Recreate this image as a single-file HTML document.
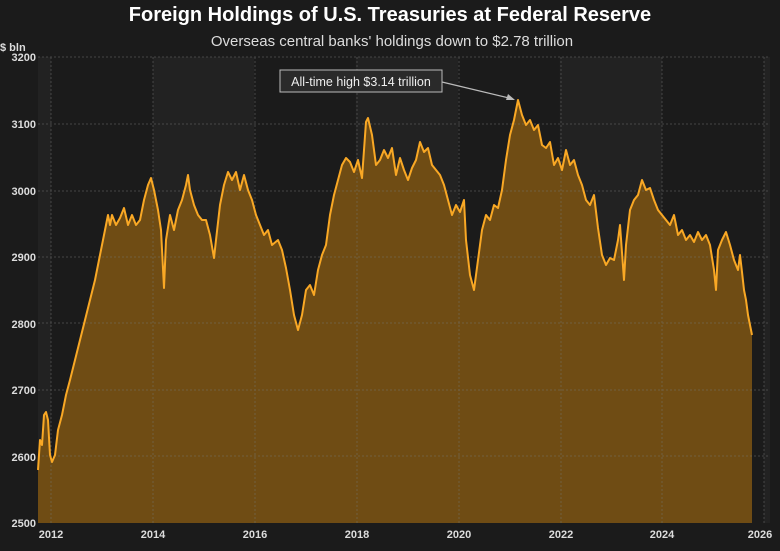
<!DOCTYPE html>
<html><head><meta charset="utf-8"><style>
body{margin:0;background:#1b1b1b;width:780px;height:546px;overflow:hidden;font-family:"Liberation Sans",sans-serif}
</style></head><body>
<svg width="780" height="546" xmlns="http://www.w3.org/2000/svg" font-family="Liberation Sans, sans-serif">
<rect width="780" height="546" fill="#1b1b1b"/>
<rect x="38" y="57" width="732" height="466" fill="#222"/>
<rect x="51" y="57" width="101.8" height="466" fill="#1b1b1b"/>
<rect x="254" y="57" width="101.8" height="466" fill="#1b1b1b"/>
<rect x="458" y="57" width="101.8" height="466" fill="#1b1b1b"/>
<rect x="662" y="57" width="101.8" height="466" fill="#1b1b1b"/>
<text x="390" y="21" fill="#fff" font-size="20" font-weight="bold" text-anchor="middle">Foreign Holdings of U.S. Treasuries at Federal Reserve</text>
<text x="392" y="46" fill="#ddd" font-size="15" text-anchor="middle">Overseas central banks' holdings down to $2.78 trillion</text>
<text x="0" y="51" fill="#ddd" font-size="11" font-weight="bold">$ bln</text>
<g fill="#ddd" font-size="11" font-weight="bold" text-anchor="end">
<text x="36" y="61">3200</text><text x="36" y="128">3100</text><text x="36" y="195">3000</text><text x="36" y="261">2900</text><text x="36" y="328">2800</text><text x="36" y="394">2700</text><text x="36" y="461">2600</text><text x="36" y="527">2500</text>
</g>
<g fill="#ddd" font-size="11" font-weight="bold" text-anchor="middle">
<text x="51" y="538">2012</text><text x="153" y="538">2014</text><text x="255" y="538">2016</text><text x="357" y="538">2018</text><text x="459" y="538">2020</text><text x="561" y="538">2022</text><text x="662" y="538">2024</text><text x="760" y="538">2026</text>
</g>
<path d="M38,523 L38,470 L40,440 L42,445 L44,415 L46,412 L48,420 L50,455 L52,462 L55,455 L58,430 L62,415 L66,395 L70,380 L75,360 L80,340 L85,320 L90,300 L95,280 L100,255 L104,235 L108,215 L110,225 L112,215 L116,225 L120,218 L124,208 L128,225 L132,215 L136,225 L140,220 L144,200 L148,185 L151,178 L154,190 L158,210 L161,230 L164,288 L166,240 L170,215 L174,230 L178,210 L182,200 L186,185 L188,175 L190,190 L194,205 L198,215 L202,220 L206,220 L210,235 L214,258 L216,240 L220,205 L224,185 L228,172 L232,180 L236,172 L240,190 L244,175 L248,190 L252,200 L256,215 L260,225 L264,235 L268,230 L272,245 L278,240 L282,250 L286,268 L290,290 L294,315 L298,330 L302,315 L306,290 L310,285 L314,295 L318,270 L322,255 L326,245 L330,215 L334,195 L338,180 L342,165 L346,158 L350,162 L354,172 L358,160 L362,178 L366,122 L368,118 L372,135 L376,165 L380,160 L384,150 L388,158 L392,148 L396,175 L400,158 L404,170 L408,180 L412,168 L416,160 L420,142 L424,152 L428,148 L432,165 L436,170 L440,175 L444,185 L448,200 L452,215 L456,205 L460,212 L464,200 L466,240 L470,275 L474,290 L478,260 L482,230 L486,215 L490,220 L494,205 L498,208 L502,190 L506,160 L510,135 L514,120 L518,100 L522,115 L526,125 L530,120 L534,130 L538,125 L542,145 L546,148 L550,142 L554,165 L558,158 L562,170 L566,150 L570,165 L574,160 L578,175 L582,185 L586,200 L590,205 L594,195 L598,228 L602,255 L606,265 L610,258 L614,260 L618,240 L620,225 L624,280 L626,245 L630,210 L634,200 L638,195 L642,180 L646,190 L650,188 L654,200 L658,210 L662,215 L666,220 L670,225 L674,215 L678,235 L682,230 L686,240 L690,235 L694,242 L698,232 L702,240 L706,235 L710,245 L714,270 L716,290 L718,250 L722,240 L726,232 L730,245 L734,260 L738,270 L740,255 L742,272 L744,290 L746,300 L748,315 L750,325 L752,335 L752,523 Z" fill="#6f4c14"/>
<g stroke="#777" stroke-width="1" stroke-dasharray="2,2" opacity="0.45">
<line x1="38" y1="124" x2="770" y2="124"/><line x1="38" y1="191" x2="770" y2="191"/><line x1="38" y1="257" x2="770" y2="257"/><line x1="38" y1="323" x2="770" y2="323"/><line x1="38" y1="390" x2="770" y2="390"/><line x1="38" y1="456" x2="770" y2="456"/><line x1="38" y1="57" x2="770" y2="57"/>
<line x1="51" y1="57" x2="51" y2="523"/><line x1="153" y1="57" x2="153" y2="523"/><line x1="255" y1="57" x2="255" y2="523"/><line x1="357" y1="57" x2="357" y2="523"/><line x1="459" y1="57" x2="459" y2="523"/><line x1="561" y1="57" x2="561" y2="523"/><line x1="662" y1="57" x2="662" y2="523"/><line x1="764" y1="57" x2="764" y2="523"/>
</g>
<polyline fill="none" stroke="#f9a825" stroke-width="2" stroke-linejoin="round" points="38,470 40,440 42,445 44,415 46,412 48,420 50,455 52,462 55,455 58,430 62,415 66,395 70,380 75,360 80,340 85,320 90,300 95,280 100,255 104,235 108,215 110,225 112,215 116,225 120,218 124,208 128,225 132,215 136,225 140,220 144,200 148,185 151,178 154,190 158,210 161,230 164,288 166,240 170,215 174,230 178,210 182,200 186,185 188,175 190,190 194,205 198,215 202,220 206,220 210,235 214,258 216,240 220,205 224,185 228,172 232,180 236,172 240,190 244,175 248,190 252,200 256,215 260,225 264,235 268,230 272,245 278,240 282,250 286,268 290,290 294,315 298,330 302,315 306,290 310,285 314,295 318,270 322,255 326,245 330,215 334,195 338,180 342,165 346,158 350,162 354,172 358,160 362,178 366,122 368,118 372,135 376,165 380,160 384,150 388,158 392,148 396,175 400,158 404,170 408,180 412,168 416,160 420,142 424,152 428,148 432,165 436,170 440,175 444,185 448,200 452,215 456,205 460,212 464,200 466,240 470,275 474,290 478,260 482,230 486,215 490,220 494,205 498,208 502,190 506,160 510,135 514,120 518,100 522,115 526,125 530,120 534,130 538,125 542,145 546,148 550,142 554,165 558,158 562,170 566,150 570,165 574,160 578,175 582,185 586,200 590,205 594,195 598,228 602,255 606,265 610,258 614,260 618,240 620,225 624,280 626,245 630,210 634,200 638,195 642,180 646,190 650,188 654,200 658,210 662,215 666,220 670,225 674,215 678,235 682,230 686,240 690,235 694,242 698,232 702,240 706,235 710,245 714,270 716,290 718,250 722,240 726,232 730,245 734,260 738,270 740,255 742,272 744,290 746,300 748,315 750,325 752,335"/>
<rect x="280" y="70" width="162" height="22" fill="#2a2a2a" stroke="#bbb" stroke-width="1"/>
<text x="361" y="86" fill="#eee" font-size="12.5" text-anchor="middle">All-time high $3.14 trillion</text>
<line x1="442" y1="82" x2="513" y2="99" stroke="#bbb" stroke-width="1.2"/>
<path d="M515,100 L506,100 L508,94 Z" fill="#bbb"/>
</svg>
</body></html>
